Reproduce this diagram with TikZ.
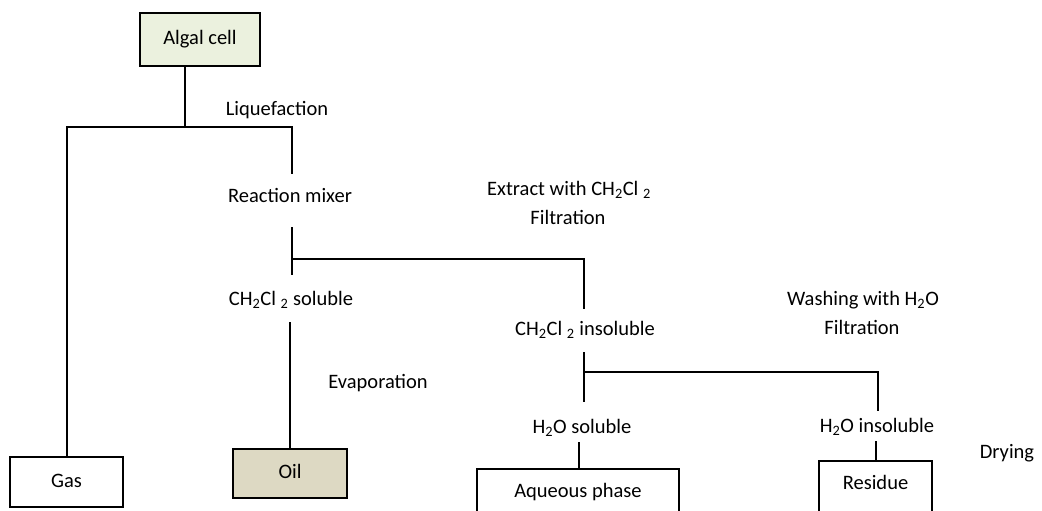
\documentclass[tikz,border=0pt]{standalone}
\usepackage{fontspec}
\setmainfont{Carlito}
\usetikzlibrary{calc}
\definecolor{algalfill}{HTML}{EBF1DE}
\definecolor{oilfill}{HTML}{DDD9C3}
\begin{document}
\begin{tikzpicture}[x=1pt,y=-1pt,
  every node/.style={font=\fontsize{20.5}{24}\selectfont},
  lbl/.style={inner sep=0pt, text height=17pt, text depth=3pt},
  box/.style={draw, line width=1.5pt, inner sep=0pt, text height=14pt, text depth=4pt},
  conn/.style={line width=1.5pt}]
\useasboundingbox (0,0) rectangle (1042,511);
\clip (0,0) rectangle (1042,511);
\fill[white] (0,0) rectangle (1042,511);

% boxes
\node[box, fill=algalfill, minimum width=120pt, minimum height=53pt] (algal) at (200,39.5) {Algal cell};
\node[box, minimum width=113pt, minimum height=50pt] (gas) at (66.5,482) {Gas};
\node[box, fill=oilfill, minimum width=114pt, minimum height=49pt] (oil) at (290,473.5) {Oil};
\node[box, anchor=north, minimum width=202pt, text height=29pt, text depth=26pt] (aq) at (578,468) {Aqueous phase};
\node[box, anchor=north, minimum width=113pt, text height=29pt, text depth=30pt] (res) at (875.5,460) {Residue};

% labels
\node[lbl] (liq) at (277,108) {Liquefaction};
\node[lbl] (rm) at (290,195) {Reaction mixer};
\node[lbl] (ext) at (569,188) {Extract with CH\textsubscript{2}Cl \textsubscript{2}};
\node[lbl] (filt1) at (568,217) {Filtration};
\node[lbl] (sol) at (291,298) {CH\textsubscript{2}Cl \textsubscript{2} soluble};
\node[lbl] (evap) at (378,381) {Evaporation};
\node[lbl] (insol) at (585,328) {CH\textsubscript{2}Cl \textsubscript{2} insoluble};
\node[lbl] (wash) at (863,298) {Washing with H\textsubscript{2}O};
\node[lbl] (filt2) at (862,327) {Filtration};
\node[lbl] (hsol) at (582,426) {H\textsubscript{2}O soluble};
\node[lbl] (hins) at (877,425) {H\textsubscript{2}O insoluble};
\node[lbl] (dry) at (1007,451) {Drying};

% junction coordinates
\coordinate (j1) at (185,127);
\coordinate (j2) at (292,127);
\coordinate (j3) at (292,259);
\coordinate (j4) at (584,372);

% connectors
\draw[conn] (algal.south -| j1) -- (j1);
\draw[conn] (gas.north -| 67,0) |- (j2) -- ($(rm.north -| j2)+(0,-11)$);
\draw[conn] ($(rm.south -| j2)+(0,22)$) -- ($(sol.north -| j2)+(0,-13)$);
\draw[conn] (j3) -| ($(insol.north -| j4)+(0,-9)$);
\draw[conn] ($(sol.south -| 290,0)+(0,14)$) -- (oil.north -| 290,0);
\draw[conn] ($(insol.south -| j4)+(0,14)$) -- ($(hsol.north -| j4)+(0,-14)$);
\draw[conn] (j4) -| ($(hins.north -| 878,0)+(0,-4)$);
\draw[conn] ($(hsol.south -| 579,0)+(0,6)$) -- (aq.north -| 579,0);
\draw[conn] ($(hins.south -| 876,0)+(0,6)$) -- (res.north -| 876,0);
\end{tikzpicture}
\end{document}
